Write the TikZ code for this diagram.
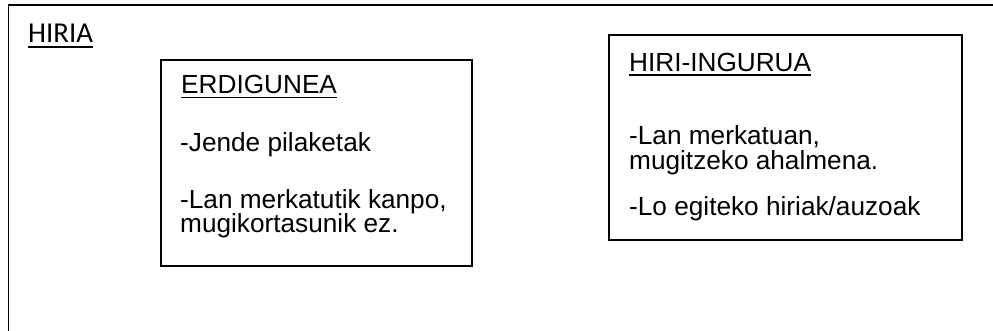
\documentclass[tikz,border=0pt]{standalone}
\usepackage{fontspec}
\setmainfont{Liberation Sans}
\newfontfamily\calibfont{Carlito}
\begin{document}
\begin{tikzpicture}[x=1pt,y=-1pt,
  box/.style={draw=black, line width=1.8pt, inner sep=0pt, anchor=north west},
  txt/.style={anchor=base west, inner sep=0pt, font=\fontsize{26.2}{26.2}\selectfont},
  uline/.style={line width=1.7pt}]
\useasboundingbox (0,0) rectangle (993,331);
\clip (0,0) rectangle (993,331);
\fill[white] (0,0) rectangle (993,331);
% outer frame (city)
\node[box, minimum width=1050pt, minimum height=400pt] (hiria) at (7.5,4.5) {};
\node[txt, font=\calibfont\fontsize{28.8}{28.8}\selectfont] (thiria) at (28,43) {HIRIA};
\draw[uline] ([yshift=-4pt]thiria.base west) -- ([yshift=-4pt]thiria.base east);
% centre box
\node[box, minimum width=311pt, minimum height=205.5pt] (erd) at (160,59.5) {};
\node[txt] (terd) at (181,93.5) {ERDIGUNEA};
\draw[uline] ([yshift=-4pt]terd.base west) -- ([yshift=-4pt]terd.base east);
\node[txt] (e1) at (180,152) {-Jende pilaketak};
\node[txt] (e2) at (180,208) {-Lan merkatutik kanpo,};
\node[txt] (e3) at (180,233) {mugikortasunik ez.};
% outskirts box
\node[box, minimum width=353pt, minimum height=205pt] (ing) at (608,34) {};
\node[txt] (ting) at (629,72) {HIRI-INGURUA};
\draw[uline] ([yshift=-3pt]ting.base west) -- ([yshift=-3pt]ting.base east);
\node[txt] (i1) at (629,145) {-Lan merkatuan,};
\node[txt] (i2) at (629,169.5) {mugitzeko ahalmena.};
\node[txt] (i3) at (629,215) {-Lo egiteko hiriak/auzoak};
\end{tikzpicture}
\end{document}
